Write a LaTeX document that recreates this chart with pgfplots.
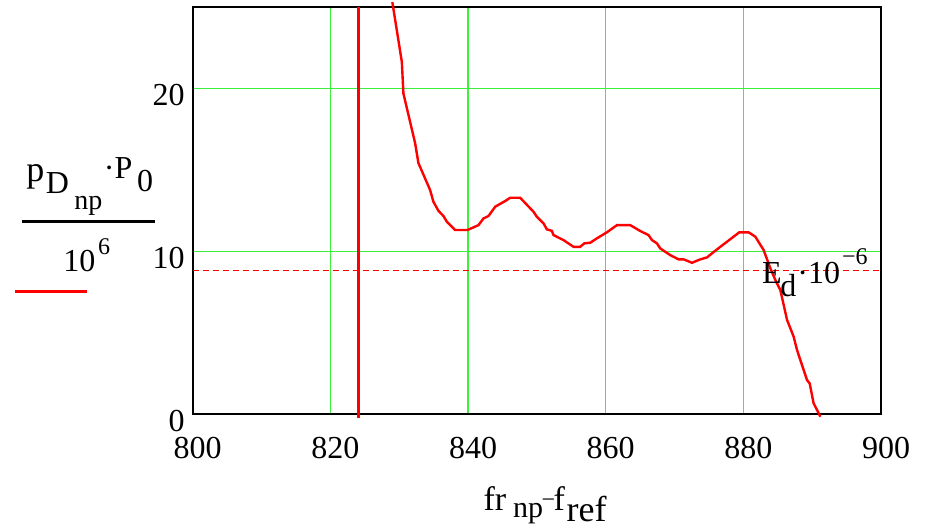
\documentclass[border=0pt]{standalone}
\usepackage{fontspec}
\setmainfont{Liberation Serif}
\usepackage{pgfplots}
\pgfplotsset{compat=1.18}
\definecolor{gridgreen}{RGB}{60,240,60}
\definecolor{mcred}{RGB}{255,0,0}
\newcommand\fs[1]{\fontsize{#1}{#1}\selectfont}
\begin{document}
\begin{tikzpicture}
\begin{axis}[
  at={(0pt,0pt)}, anchor=south west,
  scale only axis, width=344.2pt, height=203.65pt,
  xmin=800, xmax=900, ymin=0, ymax=25,
  xtick={800,820,840,860,880,900}, ytick={0,10,20},
  grid=major, major grid style={gridgreen, line width=0.6pt},
  major tick length=0pt,
  axis line style={black, line width=1pt},
  tick label style={font=\fs{16}},
  /pgf/number format/assume math mode=true,
  xticklabel style={anchor=base, inner sep=0pt, yshift=-22pt, xshift=2.5pt},
  yticklabel style={anchor=base east, inner sep=0pt, xshift=-3.85pt, yshift=-8.4pt},
  clip=false,
]
\addplot[mcred, line width=1.2pt] coordinates {
(829.0,25.3) (830.38,21.63) (830.61,19.69) (832.31,16.64) (832.79,15.42)
(834.49,13.76) (834.97,13.04) (835.70,12.49) (836.42,12.17) (836.92,11.82)
(838.13,11.31) (839.91,11.31) (841.51,11.61) (842.24,12.02) (842.97,12.17)
(843.94,12.74) (845.39,13.09) (846.12,13.29) (847.57,13.29) (849.51,12.43)
(850.00,12.12) (850.96,11.72) (851.45,11.35) (852.18,11.26) (852.41,11.00)
(853.87,10.69) (855.32,10.28) (856.29,10.28) (856.88,10.49) (857.75,10.53)
(858.72,10.80) (860.17,11.17) (861.63,11.61) (863.56,11.61) (865.01,11.25)
(866.22,11.00) (866.72,10.69) (867.44,10.49) (867.92,10.18) (869.38,9.77)
(870.58,9.51) (871.31,9.51) (872.53,9.30) (873.74,9.51) (874.71,9.63)
(875.44,9.88) (876.64,10.28) (878.10,10.75) (879.40,11.17) (880.76,11.17)
(881.73,10.90) (882.94,10.08) (883.91,8.96) (884.64,8.24) (885.36,7.63)
(886.34,5.79) (887.30,4.76) (887.79,3.94) (888.75,2.72) (889.24,2.10)
(889.62,1.90) (890.20,0.67) (890.70,0.26) (891.18,-0.15)
};
\addplot[mcred, line width=1.2pt] coordinates {(824.07,-0.25) (824.07,25)};
\addplot[mcred, line width=0.5pt, dash pattern=on 3.3pt off 1.7pt] coordinates {(800,8.85) (900,8.85)};
\end{axis}
\begin{scope}[every node/.style={inner sep=0pt, anchor=base west, font=\fs{16}}]
% y label (fraction)
\node[font=\fs{18}] at (-83.3pt,116.3pt) {p};
\node[font=\fs{16}] at (-73.6pt,110.5pt) {D};
\node[font=\fs{14}] at (-59.3pt,102.2pt) {np};
\node[font=\fs{16}] at (-44.6pt,118pt) {·P};
\node[font=\fs{16}] at (-28pt,111.3pt) {0};
\draw[line width=1.3pt] (-85.5pt,96.3pt) -- (-18.8pt,96.3pt);
\node[font=\fs{16}] at (-64.8pt,71.3pt) {10};
\node[font=\fs{12}] at (-47.5pt,79.65pt) {6};
\draw[mcred, line width=1.2pt] (-88.85pt,61.3pt) -- (-52.7pt,61.3pt);
% x label
\node[font=\fs{17}] at (145.2pt,-48.35pt) {fr};
\node[font=\fs{15}] at (160pt,-51.6pt) {np};
\node[font=\fs{12}] at (174.3pt,-46.6pt) {−};
\node[font=\fs{17}] at (180.2pt,-48.35pt) {f};
\node[font=\fs{18}] at (186.8pt,-53.7pt) {ref};
% E_d label
\node at (284.5pt,65.15pt) {E};
\node at (293.65pt,58.8pt) {d};
\node at (302.15pt,65.15pt) {·10};
\node[font=\fs{12}] at (324.5pt,74.65pt) {−6};
\end{scope}
\pgfresetboundingbox
\path[use as bounding box] (-96.35pt,-56.85pt) rectangle (366.65pt,207.15pt);
\end{tikzpicture}
\end{document}
